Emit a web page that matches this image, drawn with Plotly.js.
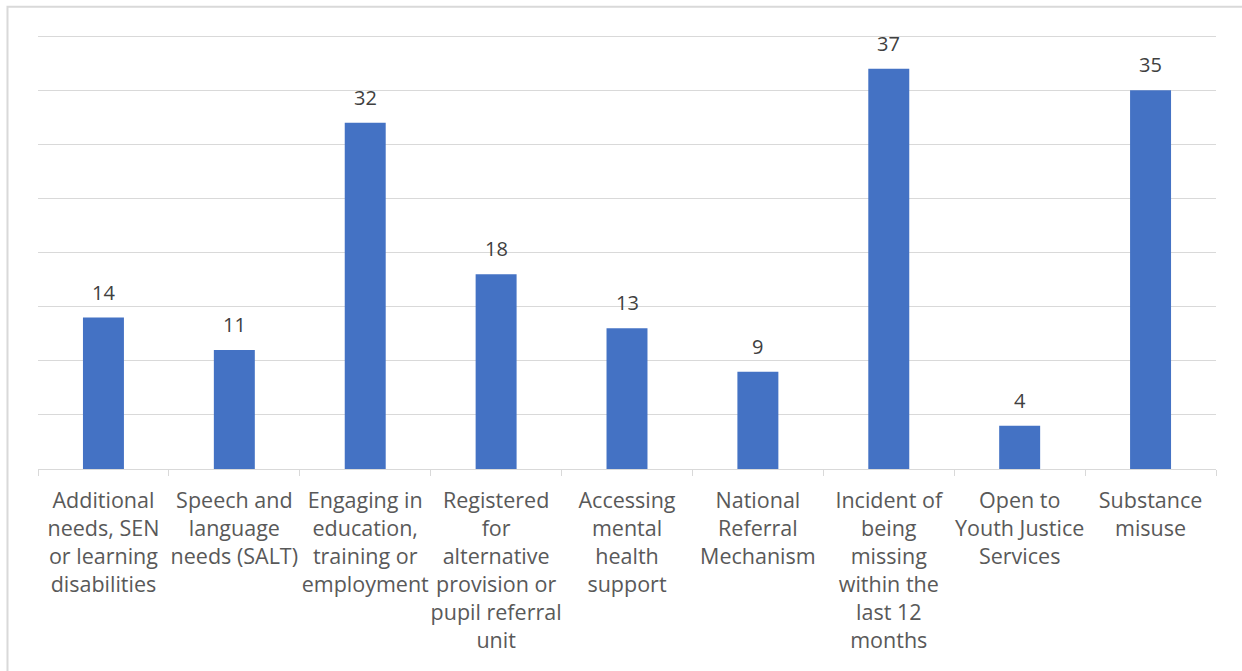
<!DOCTYPE html>
<html>
<head>
<meta charset="utf-8">
<script src="https://cdn.plot.ly/plotly-3.0.1.min.js"></script>
<style>
  html, body { margin: 0; padding: 0; background: #ffffff; }
  #chart { width: 1242px; height: 671px; }
</style>
</head>
<body>
<div id="chart"></div>
<script>
const categories = [
  "Additional<br>needs, SEN<br>or learning<br>disabilities",
  "Speech and<br>language<br>needs (SALT)",
  "Engaging in<br>education,<br>training or<br>employment",
  "Registered<br>for<br>alternative<br>provision or<br>pupil referral<br>unit",
  "Accessing<br>mental<br>health<br>support",
  "National<br>Referral<br>Mechanism",
  "Incident of<br>being<br>missing<br>within the<br>last 12<br>months",
  "Open to<br>Youth Justice<br>Services",
  "Substance<br>misuse"
];
const values = [14, 11, 32, 18, 13, 9, 37, 4, 35];

const FONT = "'Open Sans', Lato, 'Liberation Sans', sans-serif";

const trace = {
  type: "bar",
  x: categories,
  y: values,
  marker: { color: "#4472C4" },
  hoverinfo: "none"
};

const annotations = categories.map((c, i) => ({
  x: c, y: values[i], xref: "x", yref: "y",
  text: String(values[i]),
  showarrow: false, yanchor: "bottom", yshift: 10,
  font: { family: FONT, size: 20, color: "#404040" }
}));

const layout = {
  width: 1242, height: 671,
  margin: { l: 38, r: 26, t: 32.75, b: 202 },
  paper_bgcolor: "#ffffff",
  plot_bgcolor: "#ffffff",
  bargap: 0.687,
  showlegend: false,
  font: { family: FONT, color: "#595959" },
  xaxis: {
    type: "category",
    tickangle: 0,
    tickson: "boundaries",
    ticks: "outside",
    ticklen: 6,
    tickcolor: "#d9d9d9",
    showline: true,
    linecolor: "#d9d9d9",
    linewidth: 1,
    showgrid: false,
    ticklabelstandoff: 12,
    tickfont: { family: FONT, size: 21.5, color: "#595959" },
    automargin: false
  },
  yaxis: {
    range: [0, 40.3],
    tickvals: [5, 10, 15, 20, 25, 30, 35, 40],
    showticklabels: false,
    showgrid: true,
    gridcolor: "#d9d9d9",
    gridwidth: 1,
    zeroline: false,
    showline: false,
    ticks: ""
  },
  annotations: annotations,
  shapes: [{
    type: "rect", xref: "paper", yref: "paper",
    x0: -0.0259, x1: 1.05, y0: -0.6, y1: 1.0602,
    line: { color: "#d9d9d9", width: 2 }, fillcolor: "rgba(0,0,0,0)", layer: "below"
  }]
};

Plotly.newPlot("chart", [trace], layout, { displayModeBar: false, staticPlot: true });
</script>
</body>
</html>
